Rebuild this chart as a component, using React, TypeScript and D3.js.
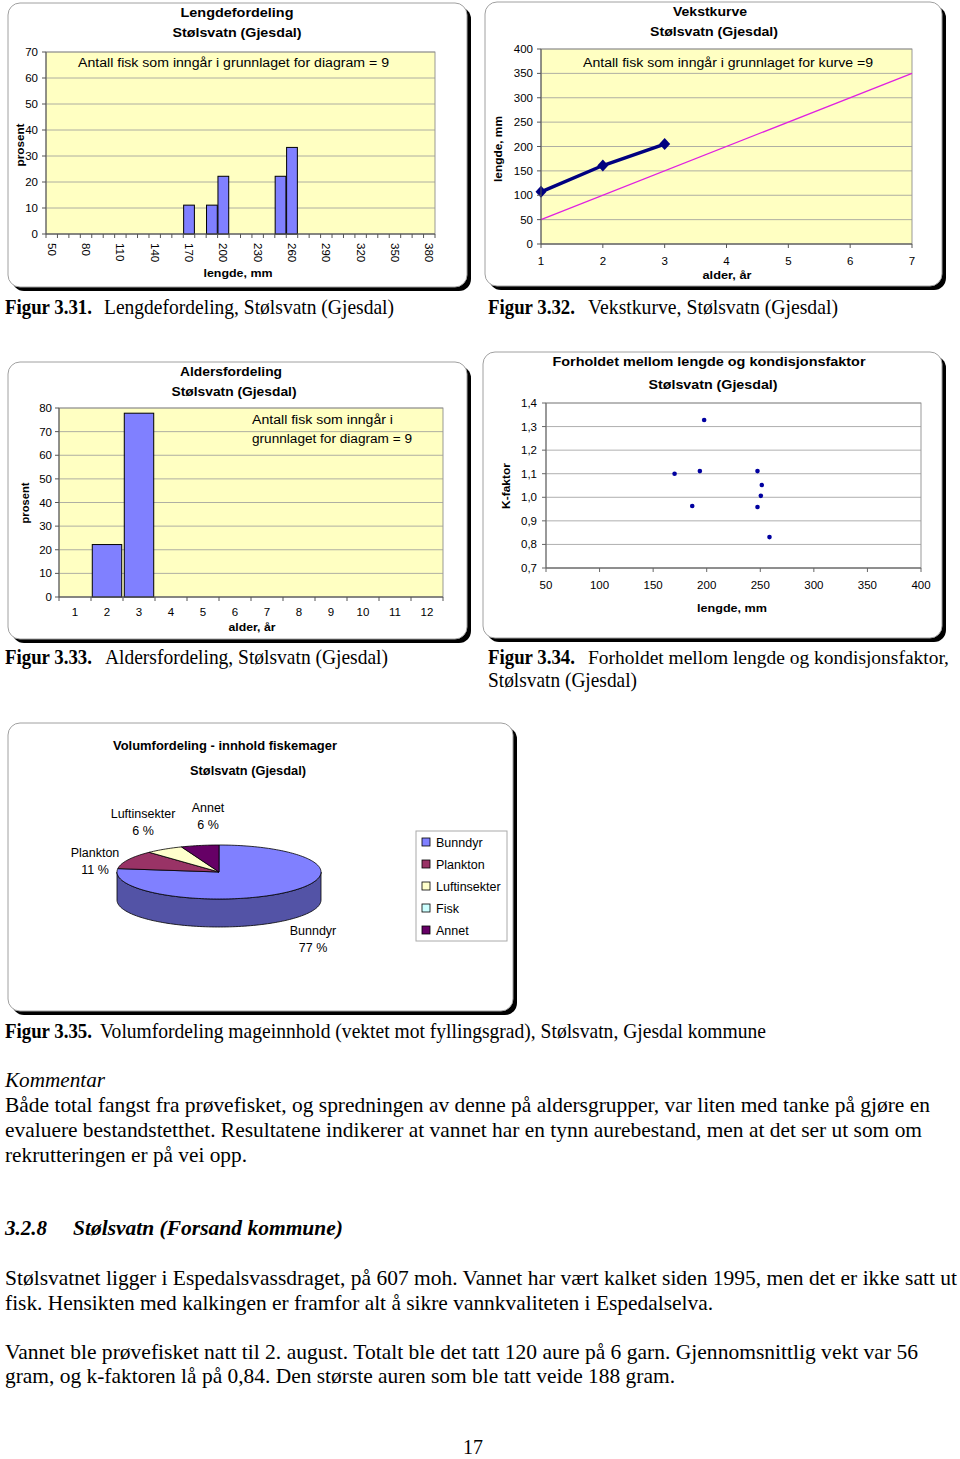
import React from 'react';
import * as d3 from 'd3';

// ---------------- DATA ----------------
const lengthCategories = [50, 60, 70, 80, 90, 100, 110, 120, 130, 140, 150, 160, 170, 180, 190, 200, 210, 220, 230, 240, 250, 260, 270, 280, 290, 300, 310, 320, 330, 340, 350, 360, 370, 380];
const lengthPercent = [0, 0, 0, 0, 0, 0, 0, 0, 0, 0, 0, 0, 11.1, 0, 11.1, 22.2, 0, 0, 0, 0, 22.2, 33.3, 0, 0, 0, 0, 0, 0, 0, 0, 0, 0, 0, 0];
const lengthTickLabels = ['50', '80', '110', '140', '170', '200', '230', '260', '290', '320', '350', '380'];
const lengthYTicks = [0, 10, 20, 30, 40, 50, 60, 70];

const growthAges = [1, 2, 3];
const growthLengths = [107, 161, 205];
const refAges = [1, 7];
const refLengths = [50, 350];
const growthXTicks = [1, 2, 3, 4, 5, 6, 7];
const growthYTicks = [0, 50, 100, 150, 200, 250, 300, 350, 400];

const ageCategories = [1, 2, 3, 4, 5, 6, 7, 8, 9, 10, 11, 12];
const agePercent = [0, 22.2, 77.8, 0, 0, 0, 0, 0, 0, 0, 0, 0];
const ageYTicks = [0, 10, 20, 30, 40, 50, 60, 70, 80];

const condLength = [170, 186.5, 193.6, 197.6, 247.4, 251.4, 250.5, 247.4, 258.6];
const condFactor = [1.1, 0.963, 1.111, 1.328, 1.111, 1.052, 1.006, 0.959, 0.831];
const condXTicks = [50, 100, 150, 200, 250, 300, 350, 400];
const condYTicks = [0.7, 0.8, 0.9, 1.0, 1.1, 1.2, 1.3, 1.4];

const dietCategories = ['Bunndyr', 'Plankton', 'Luftinsekter', 'Fisk', 'Annet'];
const dietPercent = [77, 11, 6, 0, 6];
const dietColors = ['#8080FF', '#993366', '#FFFFCC', '#CCFFFF', '#660066'];

// ---------------- STYLE ----------------
const sans = "'Liberation Sans', Arial, sans-serif";
const serif = "'Liberation Serif', 'Times New Roman', serif";
const plotYellow = '#FFFFC2';
const gridGrey = '#9a9a9a';
const axisGrey = '#808080';
const barFill = '#8080FF';

type TProps = { x: number; y: number; w?: number; anchor?: string; size?: number; weight?: string; italic?: boolean; family?: string; children: React.ReactNode };
function T({ x, y, w, anchor = 'start', size = 12, weight = 'normal', italic = false, family = sans, children }: TProps) {
  return (
    <text x={x} y={y} textAnchor={anchor} fontSize={size} fontWeight={weight} fontStyle={italic ? 'italic' : 'normal'}
      fontFamily={family} fill="#000" textLength={w} lengthAdjust={w ? 'spacingAndGlyphs' : undefined}>{children}</text>
  );
}

function VLabel({ x, y, w, children }: { x: number; y: number; w: number; children: React.ReactNode }) {
  return (
    <text transform={`translate(${x},${y}) rotate(-90)`} textAnchor="middle" dy="0.35em" fontSize={11.5} fontWeight="bold"
      fontFamily={sans} textLength={w} lengthAdjust="spacingAndGlyphs">{children}</text>
  );
}

function Box({ x, y, w, h }: { x: number; y: number; w: number; h: number }) {
  return (
    <g>
      <rect x={x + 4} y={y + 4} width={w} height={h} rx={12} fill="#000" />
      <rect x={x} y={y} width={w} height={h} rx={12} fill="#fff" stroke="#a0a0a0" strokeWidth={1} />
    </g>
  );
}

// ---------------- CHART 1 ----------------
function LengthChart() {
  const L = 46, R = 435, TOP = 52, B = 234;
  const x = d3.scaleBand<number>().domain(lengthCategories).range([L, R]).paddingInner(0.06).paddingOuter(0.03);
  const y = d3.scaleLinear().domain([0, 70]).range([B, TOP]);
  const step = x.step();
  return (
    <g>
      <Box x={8} y={3} w={459} h={284} />
      <rect x={L} y={TOP} width={R - L} height={B - TOP} fill={plotYellow} stroke={axisGrey} strokeWidth={0.8} />
      {lengthYTicks.map(t => <line key={t} x1={L} x2={R} y1={y(t)} y2={y(t)} stroke={gridGrey} strokeWidth={0.8} />)}
      <T x={237} y={17} w={113} anchor="middle" size={13} weight="bold">Lengdefordeling</T>
      <T x={237} y={37} w={129} anchor="middle" size={13} weight="bold">Stølsvatn (Gjesdal)</T>
      <T x={78} y={67} w={311} size={12}>Antall fisk som inngår i grunnlaget for diagram = 9</T>
      {lengthCategories.map((c, i) => lengthPercent[i] > 0 && (
        <rect key={c} x={x(c)} y={y(lengthPercent[i])} width={x.bandwidth()} height={B - y(lengthPercent[i])}
          fill={barFill} stroke="#000" strokeWidth={1} />
      ))}
      <line x1={L} x2={L} y1={TOP} y2={B} stroke="#555" />
      <line x1={L} x2={R} y1={B} y2={B} stroke="#555" />
      {lengthYTicks.map(t => (
        <g key={t}>
          <line x1={L - 4} x2={L} y1={y(t)} y2={y(t)} stroke="#555" />
          <text x={38} y={y(t)} dy="0.35em" textAnchor="end" fontSize={11.5} fontFamily={sans}>{t}</text>
        </g>
      ))}
      {d3.range(lengthCategories.length + 1).map(i => (
        <line key={i} x1={L + i * step} x2={L + i * step} y1={B} y2={B + 4} stroke="#555" />
      ))}
      {lengthCategories.filter(c => lengthTickLabels.includes(String(c))).map(c => (
        <text key={c} transform={`translate(${(x(c) as number) + x.bandwidth() / 2},${B + 9}) rotate(90)`} dy="0.35em"
          fontSize={11.5} fontFamily={sans}>{c}</text>
      ))}
      <T x={238} y={277} w={69} anchor="middle" size={11.5} weight="bold">lengde, mm</T>
      <VLabel x={20} y={145} w={43}>prosent</VLabel>
    </g>
  );
}

// ---------------- CHART 2 ----------------
function GrowthChart() {
  const L = 541, R = 912, TOP = 49, B = 244;
  const x = d3.scaleLinear().domain([1, 7]).range([L, R]);
  const y = d3.scaleLinear().domain([0, 400]).range([B, TOP]);
  const line = d3.line<number>().x((_, i) => x(growthAges[i])).y(d => y(d));
  const refLine = d3.line<number>().x((_, i) => x(refAges[i])).y(d => y(d));
  return (
    <g>
      <Box x={485} y={2} w={457} h={284} />
      <rect x={L} y={TOP} width={R - L} height={B - TOP} fill={plotYellow} stroke={axisGrey} strokeWidth={0.8} />
      {growthYTicks.map(t => <line key={t} x1={L} x2={R} y1={y(t)} y2={y(t)} stroke={gridGrey} strokeWidth={0.8} />)}
      <T x={710} y={16} w={74} anchor="middle" size={13} weight="bold">Vekstkurve</T>
      <T x={714} y={36} w={128} anchor="middle" size={13} weight="bold">Stølsvatn (Gjesdal)</T>
      <T x={583} y={67} w={290} size={12}>Antall fisk som inngår i grunnlaget for kurve =9</T>
      <path d={refLine(refLengths) || ''} fill="none" stroke="#E020E0" strokeWidth={1.2} />
      <path d={line(growthLengths) || ''} fill="none" stroke="#000080" strokeWidth={3.5} />
      {growthLengths.map((v, i) => {
        const cx = x(growthAges[i]), cy = y(v);
        return <path key={i} d={`M${cx},${cy - 6}L${cx + 5.5},${cy}L${cx},${cy + 6}L${cx - 5.5},${cy}Z`} fill="#000080" />;
      })}
      <line x1={L} x2={L} y1={TOP} y2={B} stroke="#555" />
      <line x1={L} x2={R} y1={B} y2={B} stroke="#555" />
      {growthYTicks.map(t => (
        <g key={t}>
          <line x1={L - 4} x2={L} y1={y(t)} y2={y(t)} stroke="#555" />
          <text x={533} y={y(t)} dy="0.35em" textAnchor="end" fontSize={11.5} fontFamily={sans}>{t}</text>
        </g>
      ))}
      {growthXTicks.map(t => (
        <g key={t}>
          <line x1={x(t)} x2={x(t)} y1={B} y2={B + 4} stroke="#555" />
          <text x={x(t)} y={265} textAnchor="middle" fontSize={11.5} fontFamily={sans}>{t}</text>
        </g>
      ))}
      <T x={727} y={279} w={49} anchor="middle" size={11.5} weight="bold">alder, år</T>
      <VLabel x={498} y={149} w={66}>lengde, mm</VLabel>
    </g>
  );
}

// ---------------- CHART 3 ----------------
function AgeChart() {
  const L = 59, R = 443, TOP = 408, B = 597;
  const x = d3.scaleBand<number>().domain(ageCategories).range([L, R]).paddingInner(0.08).paddingOuter(0.04);
  const y = d3.scaleLinear().domain([0, 80]).range([B, TOP]);
  const step = x.step();
  return (
    <g>
      <Box x={8} y={362} w={459} h={277} />
      <rect x={L} y={TOP} width={R - L} height={B - TOP} fill={plotYellow} stroke={axisGrey} strokeWidth={0.8} />
      {ageYTicks.map(t => <line key={t} x1={L} x2={R} y1={y(t)} y2={y(t)} stroke={gridGrey} strokeWidth={0.8} />)}
      <T x={231} y={376} w={102} anchor="middle" size={13} weight="bold">Aldersfordeling</T>
      <T x={234} y={396} w={125} anchor="middle" size={13} weight="bold">Stølsvatn (Gjesdal)</T>
      <T x={252} y={424} w={141} size={12}>Antall fisk som inngår i</T>
      <T x={252} y={443} w={160} size={12}>grunnlaget for diagram = 9</T>
      {ageCategories.map((c, i) => agePercent[i] > 0 && (
        <rect key={c} x={x(c)} y={y(agePercent[i])} width={x.bandwidth()} height={B - y(agePercent[i])}
          fill={barFill} stroke="#000" strokeWidth={1} />
      ))}
      <line x1={L} x2={L} y1={TOP} y2={B} stroke="#555" />
      <line x1={L} x2={R} y1={B} y2={B} stroke="#555" />
      {ageYTicks.map(t => (
        <g key={t}>
          <line x1={L - 4} x2={L} y1={y(t)} y2={y(t)} stroke="#555" />
          <text x={52} y={y(t)} dy="0.35em" textAnchor="end" fontSize={11.5} fontFamily={sans}>{t}</text>
        </g>
      ))}
      {d3.range(ageCategories.length + 1).map(i => (
        <line key={i} x1={L + i * step} x2={L + i * step} y1={B} y2={B + 4} stroke="#555" />
      ))}
      {ageCategories.map(c => (
        <text key={c} x={(x(c) as number) + x.bandwidth() / 2} y={616} textAnchor="middle" fontSize={11.5} fontFamily={sans}>{c}</text>
      ))}
      <T x={252} y={631} w={47} anchor="middle" size={11.5} weight="bold">alder, år</T>
      <VLabel x={25} y={503} w={41}>prosent</VLabel>
    </g>
  );
}

// ---------------- CHART 4 ----------------
function ConditionChart() {
  const L = 546, R = 921, TOP = 403, B = 568;
  const x = d3.scaleLinear().domain([50, 400]).range([L, R]);
  const y = d3.scaleLinear().domain([0.7, 1.4]).range([B, TOP]);
  const fmt = (v: number) => d3.format('.1f')(v).replace('.', ',');
  return (
    <g>
      <Box x={483} y={352} w={459} h={286} />
      <rect x={L} y={TOP} width={R - L} height={B - TOP} fill="#fff" stroke={axisGrey} strokeWidth={0.8} />
      {condYTicks.map(t => <line key={t} x1={L} x2={R} y1={y(t)} y2={y(t)} stroke={gridGrey} strokeWidth={0.8} />)}
      <T x={709} y={366} w={313} anchor="middle" size={13} weight="bold">Forholdet mellom lengde og kondisjonsfaktor</T>
      <T x={713} y={389} w={129} anchor="middle" size={13} weight="bold">Stølsvatn (Gjesdal)</T>
      <line x1={L} x2={L} y1={TOP} y2={B} stroke="#666" />
      <line x1={L} x2={R} y1={B} y2={B} stroke="#666" />
      {condYTicks.map(t => (
        <g key={t}>
          <line x1={L - 4} x2={L} y1={y(t)} y2={y(t)} stroke="#666" />
          <text x={537} y={y(t)} dy="0.35em" textAnchor="end" fontSize={11.5} fontFamily={sans}>{fmt(t)}</text>
        </g>
      ))}
      {condXTicks.map(t => (
        <g key={t}>
          <line x1={x(t)} x2={x(t)} y1={B} y2={B + 4} stroke="#666" />
          <text x={x(t)} y={589} textAnchor="middle" fontSize={11.5} fontFamily={sans}>{t}</text>
        </g>
      ))}
      {condLength.map((v, i) => <circle key={i} cx={x(v)} cy={y(condFactor[i])} r={2.3} fill="#0000A0" />)}
      <T x={732} y={612} w={70} anchor="middle" size={11.5} weight="bold">lengde, mm</T>
      <VLabel x={506} y={486} w={46}>K-faktor</VLabel>
    </g>
  );
}

// ---------------- CHART 5 (3D pie) ----------------
const pieLabelLayout = [
  { x: 313, y1: 935, y2: 952 },
  { x: 95, y1: 857, y2: 874 },
  { x: 143, y1: 818, y2: 835 },
  { x: 0, y1: 0, y2: 0 },
  { x: 208, y1: 812, y2: 829 },
];

function DietChart() {
  const cx = 219, cy = 872, rx = 102, ry = 27, depth = 28;
  const arcs = d3.pie<number>().sort(null).startAngle(0).endAngle(2 * Math.PI)(dietPercent);
  const pt = (a: number, dy = 0) => [cx + rx * Math.sin(a), cy - ry * Math.cos(a) + dy];
  const arcPts = (a0: number, a1: number, dy = 0) => {
    const n = Math.max(2, Math.ceil(Math.abs(a1 - a0) / 0.03));
    return d3.range(n + 1).map(k => pt(a0 + (a1 - a0) * k / n, dy));
  };
  const topPath = (a0: number, a1: number) =>
    `M${cx},${cy}` + arcPts(a0, a1).map(p => `L${p[0]},${p[1]}`).join('') + 'Z';
  const sidePath = (a0: number, a1: number) => {
    const top = arcPts(a0, a1);
    const bot = arcPts(a1, a0, depth);
    return 'M' + top.map(p => `${p[0]},${p[1]}`).join('L') + 'L' + bot.map(p => `${p[0]},${p[1]}`).join('L') + 'Z';
  };
  return (
    <g>
      <Box x={8} y={723} w={505} h={288} />
      <T x={225} y={750} w={224} anchor="middle" size={12.5} weight="bold">Volumfordeling - innhold fiskemager</T>
      <T x={248} y={775} w={116} anchor="middle" size={12.5} weight="bold">Stølsvatn (Gjesdal)</T>
      {arcs.map((a, i) => {
        const s = Math.max(a.startAngle, Math.PI / 2), e = Math.min(a.endAngle, 3 * Math.PI / 2);
        if (a.value <= 0 || s >= e) return null;
        const side = d3.color(dietColors[i])!.darker(1.2).formatHex();
        return <path key={'s' + i} d={sidePath(s, e)} fill={side} stroke="#000" strokeWidth={0.8} />;
      })}
      {arcs.map((a, i) => a.value > 0 && (
        <path key={'t' + i} d={topPath(a.startAngle, a.endAngle)} fill={dietColors[i]} stroke="#000" strokeWidth={0.8} />
      ))}
      {dietCategories.map((c, i) => dietPercent[i] > 0 && (
        <g key={c}>
          <T x={pieLabelLayout[i].x} y={pieLabelLayout[i].y1} anchor="middle" size={12.5}>{c}</T>
          <T x={pieLabelLayout[i].x} y={pieLabelLayout[i].y2} anchor="middle" size={12.5}>{`${dietPercent[i]} %`}</T>
        </g>
      ))}
      <rect x={416} y={831} width={91} height={110} fill="#fff" stroke="#aaa" strokeWidth={1} />
      {dietCategories.map((c, i) => (
        <g key={c}>
          <rect x={422} y={838 + i * 22} width={8} height={8} fill={dietColors[i]} stroke="#000" strokeWidth={0.8} />
          <T x={436} y={846.5 + i * 22} size={12.5}>{c}</T>
        </g>
      ))}
    </g>
  );
}

// ---------------- PAGE TEXT ----------------
function PageText() {
  const fs = 21;
  return (
    <g>
      <T x={5} y={314} w={87} size={fs} weight="bold" family={serif}>Figur 3.31.</T>
      <T x={104} y={314} w={290} size={fs} family={serif}>Lengdefordeling, Stølsvatn (Gjesdal)</T>
      <T x={488} y={314} w={87} size={fs} weight="bold" family={serif}>Figur 3.32.</T>
      <T x={588} y={314} w={250} size={fs} family={serif}>Vekstkurve, Stølsvatn (Gjesdal)</T>

      <T x={5} y={664} w={87} size={fs} weight="bold" family={serif}>Figur 3.33.</T>
      <T x={105} y={664} w={283} size={fs} family={serif}>Aldersfordeling, Stølsvatn (Gjesdal)</T>
      <T x={488} y={664} w={87} size={fs} weight="bold" family={serif}>Figur 3.34.</T>
      <T x={588} y={664} w={361} size={19.5} family={serif}>Forholdet mellom lengde og kondisjonsfaktor,</T>
      <T x={488} y={687} w={149} size={fs} family={serif}>Stølsvatn (Gjesdal)</T>

      <T x={5} y={1038} w={87} size={fs} weight="bold" family={serif}>Figur 3.35.</T>
      <T x={100} y={1038} w={666} size={fs} family={serif}>Volumfordeling mageinnhold (vektet mot fyllingsgrad), Stølsvatn, Gjesdal kommune</T>

      <T x={5} y={1087} w={100} size={fs} italic family={serif}>Kommentar</T>
      <T x={5} y={1112} w={925} size={fs} family={serif}>Både total fangst fra prøvefisket, og spredningen av denne på aldersgrupper, var liten med tanke på gjøre en</T>
      <T x={5} y={1137} w={917} size={fs} family={serif}>evaluere bestandstetthet. Resultatene indikerer at vannet har en tynn aurebestand, men at det ser ut som om</T>
      <T x={5} y={1162} w={242} size={fs} family={serif}>rekrutteringen er på vei opp.</T>

      <T x={5} y={1235} w={42} size={fs} weight="bold" italic family={serif}>3.2.8</T>
      <T x={73} y={1235} w={270} size={fs} weight="bold" italic family={serif}>Stølsvatn (Forsand kommune)</T>

      <T x={5} y={1285} w={952} size={fs} family={serif}>Stølsvatnet ligger i Espedalsvassdraget, på 607 moh. Vannet har vært kalket siden 1995, men det er ikke satt ut</T>
      <T x={5} y={1310} w={708} size={fs} family={serif}>fisk. Hensikten med kalkingen er framfor alt å sikre vannkvaliteten i Espedalselva.</T>
      <T x={5} y={1359} w={913} size={fs} family={serif}>Vannet ble prøvefisket natt til 2. august. Totalt ble det tatt 120 aure på 6 garn. Gjennomsnittlig vekt var 56</T>
      <T x={5} y={1383} w={670} size={fs} family={serif}>gram, og k-faktoren lå på 0,84. Den største auren som ble tatt veide 188 gram.</T>

      <T x={473} y={1454} w={20} anchor="middle" size={fs} family={serif}>17</T>
    </g>
  );
}

export default function App() {
  return (
    <svg width={960} height={1459} style={{ position: 'absolute', left: 0, top: 0, display: 'block' }}>
      <rect x={0} y={0} width={960} height={1459} fill="#fff" />
      <LengthChart />
      <GrowthChart />
      <AgeChart />
      <ConditionChart />
      <DietChart />
      <PageText />
    </svg>
  );
}
